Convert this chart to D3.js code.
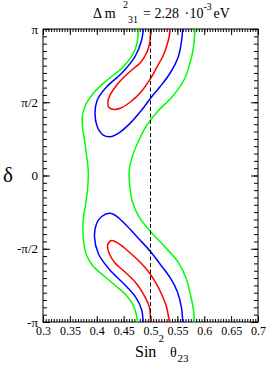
<!DOCTYPE html>
<html>
<head>
<meta charset="utf-8">
<script src="https://cdn.jsdelivr.net/npm/d3@7"></script>
<style>
  html, body { margin: 0; padding: 0; background: #fff; }
  svg { display: block; }
  svg text { font-family: "Liberation Serif", "DejaVu Serif", serif; fill: #000; }
</style>
</head>
<body>
<svg id="chart" width="266" height="367" style="font-family: 'Liberation Serif', serif;"></svg>
<script>
// ---- data: [sin^2 theta23, delta / pi] ----
const xTicks = [0.3, 0.35, 0.4, 0.45, 0.5, 0.55, 0.6, 0.65, 0.7];
const xTickLabels = ["0.3", "0.35", "0.4", "0.45", "0.5", "0.55", "0.6", "0.65", "0.7"];
const yTicks = [-1, -0.5, 0, 0.5, 1];
const yTickLabels = ["-π", "-π/2", "0", "π/2", "π"];
const maximalMixing = 0.5;

const redUpper = [
  [0.500, 1.000], [0.4987, 0.911], [0.4935, 0.843], [0.4823, 0.775], [0.4674, 0.727],
  [0.4507, 0.672], [0.4358, 0.611], [0.4247, 0.549], [0.4206, 0.502], [0.4228, 0.464],
  [0.4321, 0.451], [0.4451, 0.461], [0.4637, 0.505], [0.4823, 0.570], [0.4996, 0.659],
  [0.5121, 0.741], [0.5233, 0.816], [0.5307, 0.891], [0.5353, 0.959], [0.5363, 1.000]
];
const redLower = [
  [0.500, -1.000], [0.4978, -0.898], [0.4879, -0.816], [0.4730, -0.734], [0.4526, -0.659],
  [0.4340, -0.597], [0.4228, -0.529], [0.4204, -0.474], [0.4274, -0.444], [0.4395, -0.461],
  [0.4581, -0.515], [0.4786, -0.584], [0.4953, -0.652], [0.5102, -0.734], [0.5214, -0.816],
  [0.5298, -0.898], [0.5350, -1.000]
];
const blueUpper = [
  [0.4866, 1.000], [0.4836, 0.925], [0.4712, 0.811], [0.4464, 0.698], [0.4185, 0.606],
  [0.4010, 0.515], [0.3967, 0.425], [0.4010, 0.333], [0.4122, 0.276], [0.4247, 0.265],
  [0.4401, 0.288], [0.4619, 0.356], [0.4836, 0.447], [0.5022, 0.538], [0.5177, 0.606],
  [0.5363, 0.698], [0.5517, 0.811], [0.5580, 0.925], [0.5599, 1.000]
];
const blueLower = [
  [0.4860, -1.000], [0.4836, -0.918], [0.4721, -0.829], [0.4507, -0.741], [0.4228, -0.638],
  [0.4033, -0.536], [0.3958, -0.420], [0.3999, -0.326], [0.4092, -0.280], [0.4247, -0.258],
  [0.4377, -0.280], [0.4563, -0.345], [0.4786, -0.433], [0.4991, -0.515], [0.5177, -0.604],
  [0.5363, -0.696], [0.5502, -0.795], [0.5577, -0.904], [0.5599, -1.000]
];
const greenLeft = [
  [0.4773, 1.000], [0.4749, 0.904], [0.4665, 0.823], [0.4470, 0.734], [0.4172, 0.645],
  [0.3940, 0.563], [0.3800, 0.488], [0.3735, 0.413], [0.3735, 0.331], [0.3772, 0.242],
  [0.3809, 0.140], [0.3837, 0.058], [0.3843, 0.000], [0.3828, -0.099], [0.3791, -0.201],
  [0.3744, -0.317], [0.3753, -0.440], [0.3809, -0.543], [0.3930, -0.618], [0.4135, -0.686],
  [0.4358, -0.754], [0.4544, -0.816], [0.4665, -0.877], [0.4730, -0.939], [0.4758, -1.000]
];
const greenRight = [
  [0.5828, 1.000], [0.5800, 0.877], [0.5735, 0.768], [0.5623, 0.652], [0.5400, 0.536],
  [0.5140, 0.440], [0.4935, 0.345], [0.4786, 0.242], [0.4665, 0.133], [0.4609, 0.051],
  [0.4600, 0.000], [0.4619, -0.085], [0.4665, -0.181], [0.4786, -0.283], [0.4991, -0.379],
  [0.5251, -0.481], [0.5512, -0.590], [0.5660, -0.700], [0.5744, -0.816], [0.5800, -0.918],
  [0.5819, -1.000]
];

const contours = [
  { color: "#00ff00", pts: greenLeft },
  { color: "#00ff00", pts: greenRight },
  { color: "#0000ff", pts: blueUpper },
  { color: "#0000ff", pts: blueLower },
  { color: "#ff0000", pts: redUpper },
  { color: "#ff0000", pts: redLower }
];

// ---- layout ----
const L = 43, R = 258, T = 29, B = 322;
const FONT = "Liberation Serif";
const svg = d3.select("#chart");
const x = d3.scaleLinear().domain([0.3, 0.7]).range([L, R]);
const y = d3.scaleLinear().domain([-1, 1]).range([B, T]);

const xMinor = d3.range(0, 81).map(i => 0.3 + i * 0.005);
const yMinor = d3.range(0, 41).map(i => -1 + i * 0.05);

function styleAxis(g) {
  g.attr("font-family", FONT);
  g.selectAll(".domain").remove();
  g.selectAll("line").attr("stroke", "#000").attr("stroke-width", 1);
}

// minor ticks
svg.append("g").attr("transform", `translate(0,${B})`)
  .call(d3.axisBottom(x).tickValues(xMinor).tickSize(-3).tickFormat(""))
  .call(styleAxis);
svg.append("g").attr("transform", `translate(0,${T})`)
  .call(d3.axisTop(x).tickValues(xMinor).tickSize(-3).tickFormat(""))
  .call(styleAxis);
svg.append("g").attr("transform", `translate(${L},0)`)
  .call(d3.axisLeft(y).tickValues(yMinor).tickSize(-4).tickFormat(""))
  .call(styleAxis);
svg.append("g").attr("transform", `translate(${R},0)`)
  .call(d3.axisRight(y).tickValues(yMinor).tickSize(-4).tickFormat(""))
  .call(styleAxis);

// major ticks
svg.append("g").attr("transform", `translate(0,${B})`)
  .call(d3.axisBottom(x).tickValues(xTicks).tickSize(-6).tickPadding(4)
    .tickFormat((d, i) => xTickLabels[i]))
  .call(styleAxis)
  .call(g => g.selectAll("text").attr("font-size", 12)
    .attr("font-family", FONT).attr("fill", "#000"));
svg.append("g").attr("transform", `translate(0,${T})`)
  .call(d3.axisTop(x).tickValues(xTicks).tickSize(-6).tickFormat(""))
  .call(styleAxis);
svg.append("g").attr("transform", `translate(${L},0)`)
  .call(d3.axisLeft(y).tickValues(yTicks).tickSize(-7).tickPadding(5)
    .tickFormat((d, i) => yTickLabels[i]))
  .call(styleAxis)
  .call(g => g.selectAll("text").attr("font-size", 13)
    .attr("font-family", FONT).attr("fill", "#000"));
svg.append("g").attr("transform", `translate(${R},0)`)
  .call(d3.axisRight(y).tickValues(yTicks).tickSize(-7).tickFormat(""))
  .call(styleAxis);

// frame
svg.append("rect").attr("x", L).attr("y", T).attr("width", R - L).attr("height", B - T)
  .attr("fill", "none").attr("stroke", "#000").attr("stroke-width", 1);

// contours
svg.append("clipPath").attr("id", "plotclip")
  .append("rect").attr("x", L).attr("y", T).attr("width", R - L).attr("height", B - T);
const line = d3.line().x(d => x(d[0])).y(d => y(d[1])).curve(d3.curveCatmullRom.alpha(0.5));
svg.append("g").attr("clip-path", "url(#plotclip)")
  .selectAll("path").data(contours).join("path")
  .attr("d", d => line(d.pts))
  .attr("fill", "none")
  .attr("stroke", d => d.color)
  .attr("stroke-width", 1.5);

// dashed maximal mixing line
svg.append("line")
  .attr("x1", x(maximalMixing)).attr("x2", x(maximalMixing))
  .attr("y1", y(1)).attr("y2", y(-1))
  .attr("stroke", "#000").attr("stroke-width", 1)
  .attr("stroke-dasharray", "4,2.5");

// helper for positioned text pieces
function label(tx, ty, size, str, anchor) {
  return svg.append("text").attr("x", tx).attr("y", ty)
    .attr("font-family", FONT).attr("font-size", size)
    .attr("text-anchor", anchor || "start").text(str);
}

// title: Δm²₃₁ = 2.28 ·10⁻³ eV
label(93, 18, 14, "Δ m");
label(123, 8, 10, "2");
label(128, 23, 10, "31");
label(143, 18, 14, "= 2.28");
label(184.5, 18, 14, "·");
label(189.5, 18, 14, "10");
label(203.5, 10, 10, "-3");
label(213.5, 18, 14, "eV");

// x axis title: Sin² θ₂₃
label(135, 357, 16, "Sin");
label(158.5, 342, 11, "2");
label(170, 357, 14, "θ");
label(177.5, 362, 11, "23");

// y axis title
label(8, 182, 21, "δ", "middle");
</script>
</body>
</html>
